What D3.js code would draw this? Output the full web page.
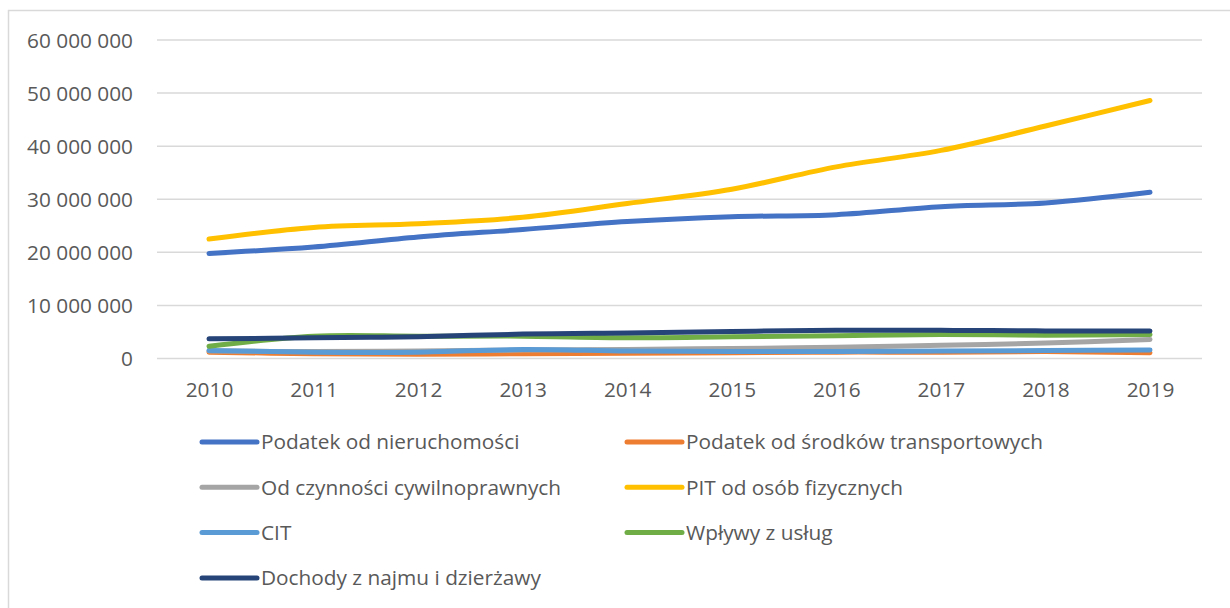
<!DOCTYPE html>
<html>
<head>
<meta charset="utf-8">
<script src="https://cdn.jsdelivr.net/npm/d3@7"></script>
<style>
  body { margin: 0; background: #fff; }
  svg text { font-family: "Open Sans", sans-serif; fill: #595959; }
</style>
</head>
<body>
<div id="chart"></div>
<script>
// lata
let years = ["2010", "2011", "2012", "2013", "2014", "2015", "2016", "2017", "2018", "2019"];
let yTicks = [0, 10000000, 20000000, 30000000, 40000000, 50000000, 60000000];

// serie (zł)
let nieruchomosci = [19800000, 21000000, 22900000, 24300000, 25800000, 26700000, 27100000, 28600000, 29300000, 31300000];
let transportowe  = [1200000, 900000, 800000, 900000, 1000000, 1100000, 1200000, 1200000, 1300000, 1100000];
let cywilnoprawne = [1400000, 1300000, 1400000, 1600000, 1700000, 1900000, 2100000, 2500000, 2900000, 3600000];
let pit           = [22500000, 24700000, 25400000, 26600000, 29200000, 31900000, 36100000, 39200000, 43800000, 48600000];
let cit           = [1500000, 1200000, 1200000, 1700000, 1400000, 1300000, 1300000, 1400000, 1500000, 1600000];
let uslugi        = [2300000, 4200000, 4200000, 4200000, 3900000, 4100000, 4300000, 4500000, 4400000, 4500000];
let najem         = [3700000, 3900000, 4100000, 4600000, 4800000, 5100000, 5300000, 5300000, 5200000, 5200000];

let seriesNames = ["Podatek od nieruchomości", "Podatek od środków transportowych", "Od czynności cywilnoprawnych",
                   "PIT od osób fizycznych", "CIT", "Wpływy z usług", "Dochody z najmu i dzierżawy"];
let seriesColors = ["#4472C4", "#ED7D31", "#A5A5A5", "#FFC000", "#5B9BD5", "#70AD47", "#264478"];

let series = [nieruchomosci, transportowe, cywilnoprawne, pit, cit, uslugi, najem].map(function(v, i) {
     return { name: seriesNames[i], color: seriesColors[i], values: v };
});

let width = 1230;
let height = 608;

let svg = d3.select("#chart").append("svg")
     .attr("width", width)
     .attr("height", height);

// ramka wykresu
svg.append("rect")
     .attr("x", 8.5).attr("y", 10.5)
     .attr("width", 1240).attr("height", 620)
     .attr("fill", "none")
     .attr("stroke", "#d9d9d9")
     .attr("stroke-width", 1.5);

let x = d3.scalePoint()
     .domain(years)
     .range([209, 1150]);

let y = d3.scaleLinear()
     .domain([0, 60000000])
     .range([358.5, 40]);

let fmt = function(d) {
     return d3.format(",")(d).replace(/,/g, " ");
};

// siatka
svg.append("g")
     .selectAll("line")
     .data(yTicks)
     .enter().append("line")
     .attr("x1", 157).attr("x2", 1202)
     .attr("y1", function(d) { return y(d); })
     .attr("y2", function(d) { return y(d); })
     .attr("stroke", "#d9d9d9")
     .attr("stroke-width", 1.5);

let yAxis = svg.append("g")
     .attr("transform", "translate(133,0)")
     .call(d3.axisLeft(y).tickValues(yTicks).tickFormat(fmt).tickSize(0).tickPadding(0));
yAxis.select(".domain").remove();
yAxis.selectAll("text").style("font-size", "20.8px").attr("dy", "0.35em");

let xAxis = svg.append("g")
     .attr("transform", "translate(0,390)")
     .call(d3.axisBottom(x).tickSize(0).tickPadding(0));
xAxis.select(".domain").remove();
xAxis.selectAll("text").style("font-size", "20.8px").attr("dy", "0.35em");

let line = d3.line()
     .x(function(d, i) { return x(years[i]); })
     .y(function(d) { return y(d); })
     .curve(d3.curveCatmullRom.alpha(0.5));

svg.append("g")
     .selectAll("path")
     .data(series)
     .enter().append("path")
     .attr("d", function(d) { return line(d.values); })
     .attr("fill", "none")
     .attr("stroke", function(d) { return d.color; })
     .attr("stroke-width", 5)
     .attr("stroke-linecap", "round")
     .attr("stroke-linejoin", "round");

// legenda (kolumny)
let legend = svg.append("g")
     .selectAll("g")
     .data(series)
     .enter().append("g")
     .attr("transform", function(d, i) {
          let col = i % 2, row = Math.floor(i / 2);
          return "translate(" + (col === 0 ? 202 : 627) + "," + (442 + row * 45.3) + ")";
     });

legend.append("line")
     .attr("x1", 0).attr("x2", 55)
     .attr("stroke", function(d) { return d.color; })
     .attr("stroke-width", 5)
     .attr("stroke-linecap", "round");

legend.append("text")
     .attr("x", 59)
     .attr("dy", "0.35em")
     .style("font-size", "20.8px")
     .text(function(d) { return d.name; });
</script>
</body>
</html>
